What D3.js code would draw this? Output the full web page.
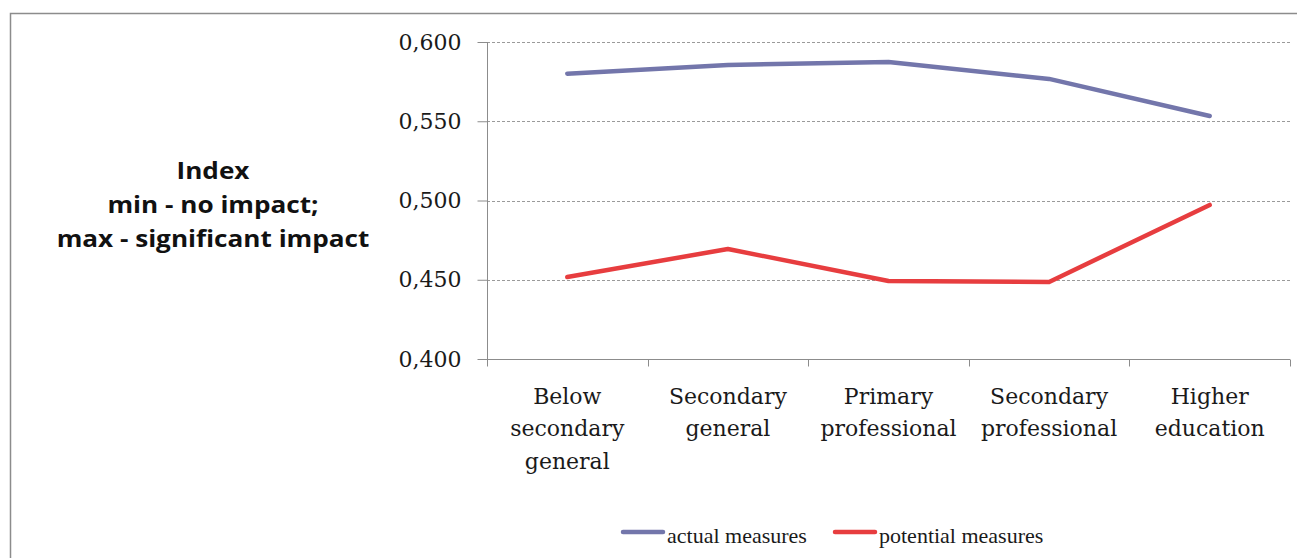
<!DOCTYPE html>
<html>
<head>
<meta charset="utf-8">
<script src="https://cdn.jsdelivr.net/npm/d3@7"></script>
<style>
  body { margin: 0; background: #fff; }
  svg { display: block; }
</style>
</head>
<body>
<div id="chart"></div>
<script>
var categories = [
  ["Below", "secondary", "general"],
  ["Secondary", "general"],
  ["Primary", "professional"],
  ["Secondary", "professional"],
  ["Higher", "education"]
];
var actualMeasures = [0.580, 0.5855, 0.5874, 0.5767, 0.5533];
var potentialMeasures = [0.4517, 0.4694, 0.4492, 0.4486, 0.4972];
var yTicks = [0.400, 0.450, 0.500, 0.550, 0.600];
var seriesNames = ["actual measures", "potential measures"];
var yTitle = ["Index", "min - no impact;", "max - significant impact"];

var width = 1297, height = 558;
var margin = { left: 487, right: 7, top: 42, bottom: 199 };

var svg = d3.select("#chart").append("svg")
  .attr("width", width)
  .attr("height", height);

// outer frame
svg.append("path")
  .attr("d", "M10.5," + height + "V13.5H" + width)
  .attr("fill", "none")
  .attr("stroke", "#8c8c8c")
  .attr("stroke-width", 1.5);

var x = d3.scaleBand()
  .domain(d3.range(categories.length))
  .range([margin.left, width - margin.right]);

var y = d3.scaleLinear()
  .domain([0.4, 0.6])
  .range([height - margin.bottom, margin.top]);

// gridlines
svg.append("g")
  .selectAll("line")
  .data(yTicks.slice(1))
  .enter().append("line")
  .attr("x1", margin.left)
  .attr("x2", width - margin.right)
  .attr("y1", function(d) { return Math.round(y(d)) + 0.5; })
  .attr("y2", function(d) { return Math.round(y(d)) + 0.5; })
  .attr("stroke", "#9a9a9a")
  .attr("stroke-width", 1)
  .attr("stroke-dasharray", "3,2");

// y axis
var yAxis = svg.append("g")
  .attr("transform", "translate(" + (margin.left + 0.5) + ",0)")
  .call(d3.axisLeft(y)
    .tickValues(yTicks)
    .tickSize(10)
    .tickPadding(16)
    .tickFormat(function(d) { return d3.format(".3f")(d).replace(".", ","); }));
yAxis.select(".domain").attr("stroke", "#8c8c8c").attr("d", "M0," + margin.top + "V" + (height - margin.bottom + 0.5));
yAxis.selectAll(".tick line").attr("stroke", "#8c8c8c");
yAxis.selectAll(".tick text")
  .attr("font-family", "DejaVu Serif")
  .attr("font-size", 22)
  .attr("fill", "#1a1a1a");

// x axis
var xAxis = svg.append("g")
  .attr("transform", "translate(0," + (Math.round(y(0.4)) + 0.5) + ")");
xAxis.append("line")
  .attr("x1", margin.left)
  .attr("x2", width - margin.right)
  .attr("stroke", "#8c8c8c");
xAxis.selectAll(".xtick")
  .data(d3.range(categories.length + 1))
  .enter().append("line")
  .attr("x1", function(d) { return Math.round(margin.left + d * x.bandwidth()) + 0.5; })
  .attr("x2", function(d) { return Math.round(margin.left + d * x.bandwidth()) + 0.5; })
  .attr("y1", 0)
  .attr("y2", 7)
  .attr("stroke", "#8c8c8c");

var catLabels = xAxis.selectAll(".cat")
  .data(categories)
  .enter().append("text")
  .attr("text-anchor", "middle")
  .attr("font-family", "DejaVu Serif")
  .attr("font-size", 22)
  .attr("fill", "#1a1a1a");
catLabels.selectAll("tspan")
  .data(function(d, i) { return d.map(function(t) { return { t: t, i: i }; }); })
  .enter().append("tspan")
  .attr("x", function(d) { return x(d.i) + x.bandwidth() / 2; })
  .attr("y", function(d, j) { return 44 + j * 32.5; })
  .text(function(d) { return d.t; });

// lines
var line = d3.line()
  .x(function(d, i) { return x(i) + x.bandwidth() / 2; })
  .y(function(d) { return y(d); });

var colors = ["#7376ab", "#e73d3f"];
[actualMeasures, potentialMeasures].forEach(function(vals, k) {
  svg.append("path")
    .attr("d", line(vals))
    .attr("fill", "none")
    .attr("stroke", colors[k])
    .attr("stroke-width", 4.5)
    .attr("stroke-linecap", "round")
    .attr("stroke-linejoin", "round");
});

// y title (stretched horizontally to match the original's wide lettering)
var titleG = svg.append("g");
titleG.selectAll("text")
  .data(yTitle)
  .enter().append("text")
  .attr("x", 0)
  .attr("y", function(d, i) { return 179 + i * 34; })
  .attr("text-anchor", "middle")
  .attr("font-family", "Open Sans")
  .attr("font-weight", "bold")
  .attr("font-size", 24)
  .attr("fill", "#111")
  .text(function(d) { return d; });
var tw = titleG.node().getBBox().width;
titleG.attr("transform", "translate(213,0) scale(" + (313 / tw) + ",1)");

// legend
var legendX = [623, 835];
var legend = svg.append("g").selectAll("g")
  .data(seriesNames)
  .enter().append("g")
  .attr("transform", function(d, i) { return "translate(" + legendX[i] + ",532)"; });
legend.append("line")
  .attr("x1", 0).attr("x2", 40)
  .attr("stroke", function(d, i) { return colors[i]; })
  .attr("stroke-width", 4.5)
  .attr("stroke-linecap", "round");
legend.append("text")
  .attr("x", 44)
  .attr("y", 11)
  .attr("font-family", "Liberation Serif")
  .attr("font-size", 22)
  .attr("fill", "#1a1a1a")
  .text(function(d) { return d; });
</script>
</body>
</html>
